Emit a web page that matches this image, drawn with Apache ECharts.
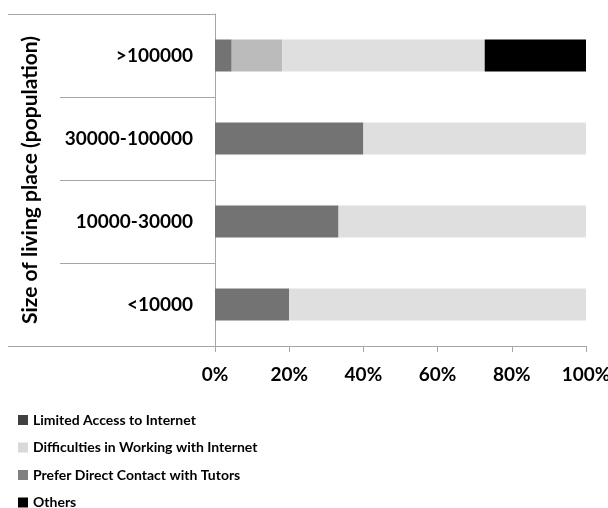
<!DOCTYPE html>
<html>
<head>
<meta charset="utf-8">
<script src="https://cdn.jsdelivr.net/npm/echarts@6/dist/echarts.min.js"></script>
<style>
  html, body { margin: 0; padding: 0; background: #fff; overflow: hidden; }
  #chart { width: 608px; height: 508px; }
</style>
</head>
<body>
<div id="chart"></div>
<script>
// Population size groups (bottom to top)
const categories = ['<10000', '10000-30000', '30000-100000', '>100000'];

// Share of respondents (%) per reason, one array per series
const limitedAccess = [20.0, 33.3, 40.0, 4.5];
const preferContact = [0, 0, 0, 13.6];
const difficulties = [80.0, 66.7, 60.0, 54.6];
const others = [0, 0, 0, 27.3];

const xTicks = [0, 20, 40, 60, 80, 100];

// Legend entries in display order, with their swatch colours
const legendNames = [
  'Limited Access to Internet',
  'Difficulties in Working with Internet',
  'Prefer Direct Contact with Tutors',
  'Others'
];
const legendColors = ['#404040', '#d9d9d9', '#808080', '#000000'];

const FONT = 'Lato, "Open Sans", sans-serif';
const AXIS_GREY = '#a6a6a6';

const chart = echarts.init(document.getElementById('chart'), null, { renderer: 'canvas', width: 608, height: 508 });

function barSeries(name, data, color) {
  return {
    name: name,
    type: 'bar',
    stack: 'total',
    barWidth: 32,
    data: data,
    itemStyle: { color: color },
    emphasis: { disabled: true }
  };
}

// one single-entry legend per row so the column never wraps
const legends = legendNames.map(function (name, i) {
  return {
    orient: 'vertical',
    left: 18,
    top: 413 + i * 27.5,
    padding: 0,
    itemWidth: 10,
    itemHeight: 10,
    itemTextGap: 4,
    icon: 'rect',
    selectedMode: false,
    textStyle: { color: '#000', fontWeight: 'bold', fontSize: 14, fontFamily: FONT },
    data: [{ name: name, itemStyle: { color: legendColors[i] } }]
  };
});

chart.setOption({
  animation: false,
  textStyle: { fontFamily: FONT },
  grid: { left: 215, right: 22, top: 14, bottom: 162, containLabel: false, outerBoundsMode: 'none' },
  xAxis: {
    type: 'value',
    min: xTicks[0],
    max: xTicks[xTicks.length - 1],
    interval: 20,
    axisLine: { show: true, lineStyle: { color: AXIS_GREY, width: 1 } },
    axisTick: { show: true, length: 6, lineStyle: { color: AXIS_GREY } },
    splitLine: { show: false },
    axisLabel: {
      formatter: '{value}%',
      color: '#000',
      fontWeight: 'bold',
      fontSize: 19,
      fontFamily: FONT,
      margin: 19,
      hideOverlap: false
    }
  },
  yAxis: {
    type: 'category',
    data: categories,
    name: 'Size of living place (population)',
    nameLocation: 'middle',
    nameRotate: 90,
    nameGap: 174,
    nameTextStyle: { color: '#000', fontWeight: 'bold', fontSize: 21, fontFamily: FONT },
    axisLine: { show: true, lineStyle: { color: AXIS_GREY, width: 1 } },
    axisTick: { show: true, length: 155, alignWithLabel: false, lineStyle: { color: AXIS_GREY } },
    axisLabel: {
      color: '#000',
      fontWeight: 'bold',
      fontSize: 19,
      fontFamily: FONT,
      margin: 22
    }
  },
  legend: legends,
  series: [
    barSeries('Limited Access to Internet', limitedAccess, '#737373'),
    barSeries('Prefer Direct Contact with Tutors', preferContact, '#bbbbbb'),
    barSeries('Difficulties in Working with Internet', difficulties, '#dfdfdf'),
    barSeries('Others', others, '#000000')
  ],
  graphic: [
    // outer bracket lines of the grouped category header
    { type: 'line', silent: true, shape: { x1: 8, y1: 14.5, x2: 60, y2: 14.5 }, style: { stroke: AXIS_GREY, lineWidth: 1 } },
    { type: 'line', silent: true, shape: { x1: 8, y1: 346.5, x2: 60, y2: 346.5 }, style: { stroke: AXIS_GREY, lineWidth: 1 } }
  ]
});
</script>
</body>
</html>
